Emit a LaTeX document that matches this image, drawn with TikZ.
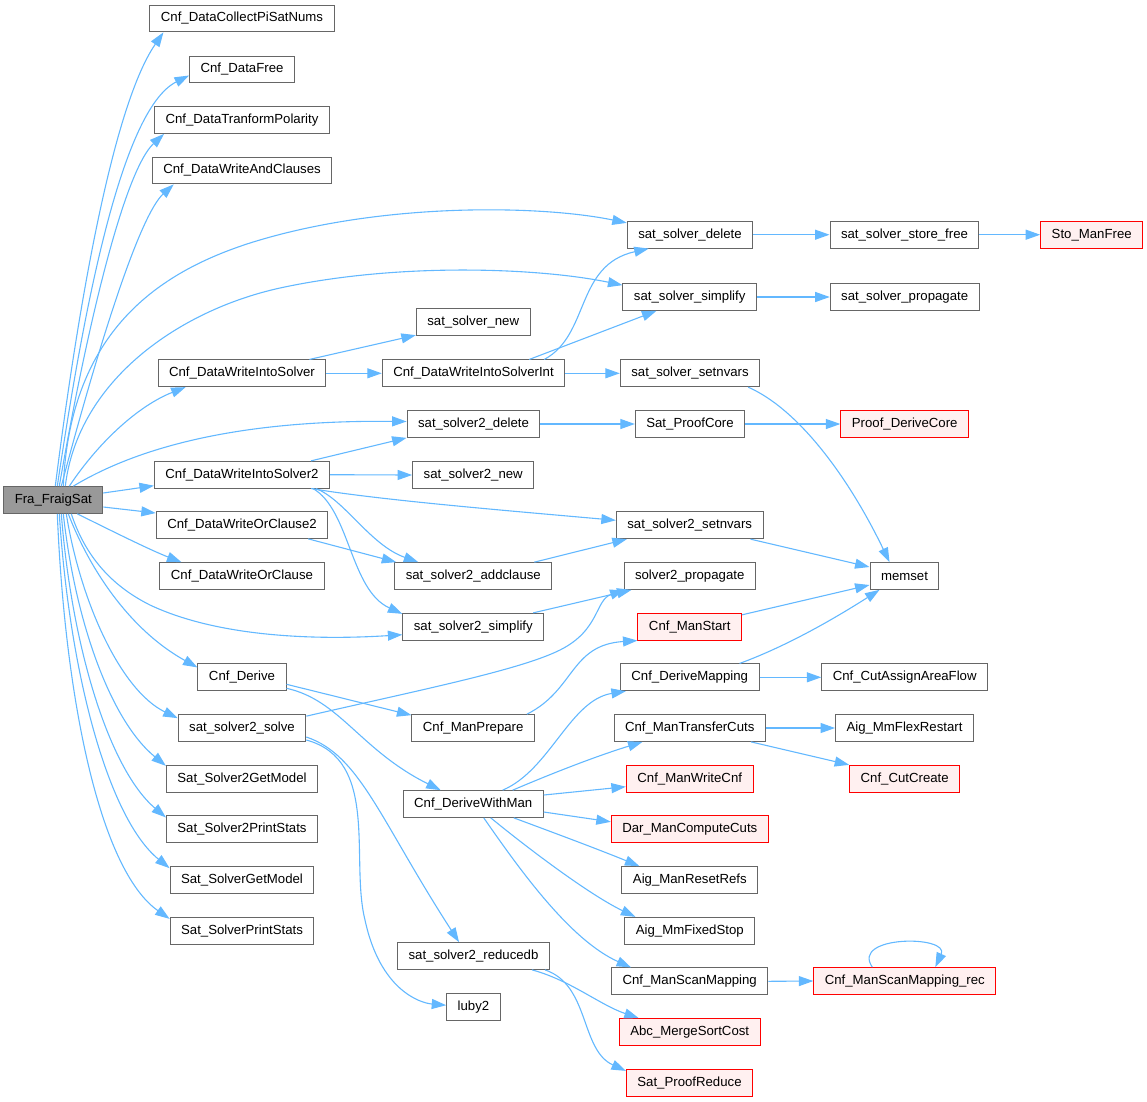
\documentclass[tikz,border=0pt]{standalone}
\usepackage{fontspec}
\setmainfont{Liberation Sans}
\usepackage{xcolor}
\usetikzlibrary{arrows.meta}
\definecolor{callblue}{HTML}{63B8FF}
\definecolor{fngray}{HTML}{666666}
\definecolor{rootfill}{HTML}{999999}
\definecolor{extfill}{HTML}{FFF0F0}

\begin{document}
\begin{tikzpicture}[
    x=1pt, y=-1pt,
    fn/.style={rectangle, draw=fngray, fill=white, line width=1pt, minimum height=26.7pt, inner xsep=11pt, inner ysep=0pt, font=\fontsize{13.2}{16}\selectfont},
    ext/.style={fn, draw=red, fill=extfill},
    root/.style={fn, fill=rootfill},
    call/.style={draw=callblue, line width=1.1pt, -{Triangle[length=14.5pt,width=10pt]}}
]
\useasboundingbox (0,0) rectangle (1147,1101);

% caller
\node[root] (fra) at (53.3,500) {Fra\_FraigSat};

% first level
\node[fn] (cps) at (242,18.5) {Cnf\_DataCollectPiSatNums};
\node[fn] (dfree) at (242,69.5) {Cnf\_DataFree};
\node[fn] (dtp) at (242,120) {Cnf\_DataTranformPolarity};
\node[fn] (dwac) at (242,170.5) {Cnf\_DataWriteAndClauses};
\node[fn] (dwis) at (242,373.3) {Cnf\_DataWriteIntoSolver};
\node[fn] (dwis2) at (242,474.7) {Cnf\_DataWriteIntoSolver2};
\node[fn] (dwoc2) at (242,525) {Cnf\_DataWriteOrClause2};
\node[fn] (dwoc) at (242,576) {Cnf\_DataWriteOrClause};
\node[fn] (derive) at (242,677.3) {Cnf\_Derive};
\node[fn] (s2solve) at (242,728) {sat\_solver2\_solve};
\node[fn] (s2getm) at (242,778.7) {Sat\_Solver2GetModel};
\node[fn] (s2pstats) at (242,829.3) {Sat\_Solver2PrintStats};
\node[fn] (sgetm) at (242,880) {Sat\_SolverGetModel};
\node[fn] (spstats) at (242,930.7) {Sat\_SolverPrintStats};

% second level
\node[fn] (ssnew) at (473.2,322.3) {sat\_solver\_new};
\node[fn] (dwisi) at (473.5,373.3) {Cnf\_DataWriteIntoSolverInt};
\node[fn] (s2del) at (473.5,424) {sat\_solver2\_delete};
\node[fn] (s2new) at (473.2,475) {sat\_solver2\_new};
\node[fn] (s2addc) at (473.3,576) {sat\_solver2\_addclause};
\node[fn] (s2simp) at (473.3,626.7) {sat\_solver2\_simplify};
\node[fn] (manprep) at (473.2,728) {Cnf\_ManPrepare};
\node[fn] (dwman) at (473.2,804) {Cnf\_DeriveWithMan};
\node[fn] (s2reduce) at (473.5,956) {sat\_solver2\_reducedb};
\node[fn] (luby) at (473.5,1006.7) {luby2};

% third level
\node[fn] (ssdel) at (690,234.7) {sat\_solver\_delete};
\node[fn] (sssimp) at (689.7,297) {sat\_solver\_simplify};
\node[fn] (sssetn) at (690,373.3) {sat\_solver\_setnvars};
\node[fn] (proofcore) at (690,424) {Sat\_ProofCore};
\node[fn] (s2setn) at (689.7,525.3) {sat\_solver2\_setnvars};
\node[fn] (s2prop) at (689.7,576) {solver2\_propagate};
\node[ext] (manstart) at (689.7,626.7) {Cnf\_ManStart};
\node[fn] (dmapping) at (689.7,677.3) {Cnf\_DeriveMapping};
\node[fn] (mtcuts) at (689.7,728) {Cnf\_ManTransferCuts};
\node[ext] (mwcnf) at (689.7,778.7) {Cnf\_ManWriteCnf};
\node[ext] (darcuts) at (689.8,829.3) {Dar\_ManComputeCuts};
\node[fn] (resetrefs) at (689.8,880) {Aig\_ManResetRefs};
\node[fn] (mmfixed) at (689.8,930.7) {Aig\_MmFixedStop};
\node[fn] (scanmap) at (689.7,981.3) {Cnf\_ManScanMapping};
\node[ext] (mergesort) at (689.7,1032) {Abc\_MergeSortCost};
\node[ext] (proofreduce) at (689.5,1082.7) {Sat\_ProofReduce};

% fourth level
\node[fn] (ssfree) at (904.5,234.7) {sat\_solver\_store\_free};
\node[fn] (ssprop) at (904.7,297) {sat\_solver\_propagate};
\node[ext] (derivecore) at (904.7,424) {Proof\_DeriveCore};
\node[fn] (memset) at (904.5,576) {memset};
\node[fn] (cutaaf) at (904.7,677.3) {Cnf\_CutAssignAreaFlow};
\node[fn] (mmflex) at (904.5,728) {Aig\_MmFlexRestart};
\node[ext] (cutcreate) at (904.7,778.7) {Cnf\_CutCreate};
\node[ext] (scanrec) at (904.8,981) {Cnf\_ManScanMapping\_rec};
\node[ext] (stofree) at (1091.7,234.7) {Sto\_ManFree};

% calls from Fra_FraigSat
\draw[call] ([xshift=2pt]fra.north) .. controls (75,330) and (110,110) .. ([xshift=14pt]cps.south west);
\draw[call] ([xshift=4pt]fra.north) .. controls (82,320) and (120,110) .. ([yshift=-6pt]dfree.west);
\draw[call] ([xshift=6pt]fra.north) .. controls (88,320) and (125,170) .. ([xshift=10pt]dtp.south west);
\draw[call] ([xshift=8pt]fra.north) .. controls (100,340) and (140,215) .. ([xshift=22pt]dwac.south west);
\draw[call] ([xshift=10pt]fra.north) .. controls (70,330) and (160,272) .. (250,243) .. controls (380,202) and (540,205) .. ([yshift=-2pt]ssdel.north west);
\draw[call] ([xshift=12pt]fra.north) .. controls (78,380) and (180,310) .. (280,288) .. controls (400,262) and (540,268) .. ([yshift=-2pt]sssimp.north west);
\draw[call] ([xshift=16pt]fra.north) .. controls (100,440) and (140,405) .. ([xshift=28pt]dwis.south west);
\draw[call] ([xshift=20pt]fra.north) .. controls (150,440) and (260,420) .. ([yshift=2.5pt]s2del.west);
\draw[call] ([yshift=7pt]fra.east) -- ([yshift=-11pt]dwis2.west);
\draw[call] ([yshift=-7pt]fra.east) -- ([yshift=12pt]dwoc2.west);
\draw[call] ([xshift=24pt]fra.south) .. controls (110,530) and (150,550) .. ([xshift=22pt]dwoc.north west);
\draw[call] ([xshift=18pt]fra.south) .. controls (85,555) and (110,585) .. (150,605) .. controls (220,638) and (320,640) .. ([yshift=-8pt]s2simp.west);
\draw[call] ([xshift=15pt]fra.south) .. controls (90,570) and (130,630) .. ([yshift=-4pt]derive.north west);
\draw[call] ([xshift=13pt]fra.south) .. controls (80,600) and (120,690) .. ([yshift=-4pt]s2solve.north west);
\draw[call] ([xshift=10pt]fra.south) .. controls (75,620) and (110,720) .. ([yshift=-1pt]s2getm.north west);
\draw[call] ([xshift=8pt]fra.south) .. controls (72,650) and (110,770) .. ([yshift=-2pt]s2pstats.north west);
\draw[call] ([xshift=6pt]fra.south) .. controls (70,680) and (110,820) .. ([yshift=-2pt]sgetm.north west);
\draw[call] ([xshift=4pt]fra.south) .. controls (65,700) and (100,870) .. ([yshift=-2pt]spstats.north west);

% sat_solver branch
\draw[call] ([xshift=-17pt]dwis.north east) -- ([yshift=1pt]ssnew.south west);
\draw[call] (dwis.east) -- (dwisi.west);
\draw[call] ([xshift=-21pt]dwisi.north east) .. controls (590,335) and (575,265) .. ([xshift=22pt]ssdel.south west);
\draw[call] ([xshift=-36pt]dwisi.north east) -- ([xshift=34pt]sssimp.south west);
\draw[call] (dwisi.east) -- (sssetn.west);
\draw[call] (ssdel.east) -- (ssfree.west);
\draw[call] (ssfree.east) -- (stofree.west);
\draw[call] (sssimp.east) -- (ssprop.west);
\draw[call] ([xshift=-12pt]sssetn.south east) .. controls (800,410) and (850,480) .. ([xshift=20pt]memset.north west);

% sat_solver2 branch
\draw[call] ([xshift=-19pt]dwis2.north east) -- (s2del.south west);
\draw[call] (dwis2.east) -- (s2new.west);
\draw[call] (s2del.east) -- (proofcore.west);
\draw[call] (proofcore.east) -- (derivecore.west);
\draw[call] ([xshift=-19pt]dwis2.south east) .. controls (380,500) and (500,510) .. ([yshift=5pt]s2setn.west);
\draw[call] ([xshift=-14pt]dwis2.south east) .. controls (345,500) and (370,545) .. ([xshift=24pt]s2addc.north west);
\draw[call] ([xshift=-17pt]dwis2.south east) .. controls (350,510) and (350,590) .. ([yshift=-1pt]s2simp.north west);
\draw[call] ([xshift=-20pt]dwoc2.south east) -- ([xshift=2pt]s2addc.north west);
\draw[call] ([xshift=-18pt]s2addc.north east) -- ([xshift=11pt]s2setn.south west);
\draw[call] ([xshift=-13pt]s2setn.south east) -- ([yshift=9pt]memset.west);
\draw[call] ([xshift=-11pt]s2simp.north east) -- ([xshift=8pt]s2prop.south west);
\draw[call] ([yshift=-2pt]s2solve.north east) .. controls (420,690) and (520,670) .. (560,650) .. controls (600,630) and (595,600) .. ([xshift=1pt]s2prop.south west);
\draw[call] ([yshift=-9pt]s2solve.east) .. controls (360,755) and (380,820) .. ([xshift=62pt]s2reduce.north west);
\draw[call] ([yshift=-12pt]s2solve.east) .. controls (380,760) and (350,860) .. (365,920) .. controls (380,990) and (420,1003) .. ([yshift=1.5pt]luby.west);
\draw[call] ([xshift=-18pt]s2reduce.south east) .. controls (570,980) and (600,1005) .. ([xshift=20pt]mergesort.north west);
\draw[call] ([xshift=-5pt]s2reduce.south east) .. controls (590,985) and (580,1050) .. ([yshift=-2pt]proofreduce.north west);

% Cnf_Derive branch
\draw[call] ([yshift=-7pt]derive.east) .. controls (330,695) and (370,705) .. ([yshift=-1pt]manprep.north west);
\draw[call] ([yshift=-11pt]derive.east) .. controls (340,700) and (360,750) .. ([xshift=38pt]dwman.north west);
\draw[call] ([xshift=-8pt]manprep.north east) .. controls (575,690) and (570,645) .. (manstart.south west);
\draw[call] ([yshift=-2pt]manstart.north east) -- ([yshift=-9pt]memset.west);
\draw[call] ([xshift=-20pt]dmapping.north east) .. controls (790,645) and (840,615) .. ([xshift=10pt]memset.south west);
\draw[call] (dmapping.east) -- (cutaaf.west);
\draw[call] ([xshift=100pt]dwman.north west) .. controls (550,770) and (570,700) .. ([xshift=6pt]dmapping.south west);
\draw[call] ([xshift=110pt]dwman.north west) .. controls (560,770) and (600,755) .. ([xshift=29pt]mtcuts.south west);
\draw[call] ([yshift=9pt]dwman.east) -- ([yshift=-8pt]mwcnf.west);
\draw[call] ([yshift=-8pt]dwman.east) -- ([yshift=7.5pt]darcuts.west);
\draw[call] ([xshift=-30pt]dwman.south east) .. controls (560,835) and (600,850) .. ([xshift=18pt]resetrefs.north west);
\draw[call] ([xshift=-53pt]dwman.south east) .. controls (530,850) and (590,895) .. ([xshift=11pt]mmfixed.north west);
\draw[call] ([xshift=-60pt]dwman.south east) .. controls (520,870) and (570,940) .. ([xshift=20pt]scanmap.north west);
\draw[call] (mtcuts.east) -- (mmflex.west);
\draw[call] ([xshift=-15pt]mtcuts.south east) -- (cutcreate.north west);
\draw[call] (scanmap.east) -- (scanrec.west);
\draw[call] ([xshift=59pt]scanrec.north west) .. controls (850,935) and (950,935) .. ([xshift=122pt]scanrec.north west);
\end{tikzpicture}
\end{document}
